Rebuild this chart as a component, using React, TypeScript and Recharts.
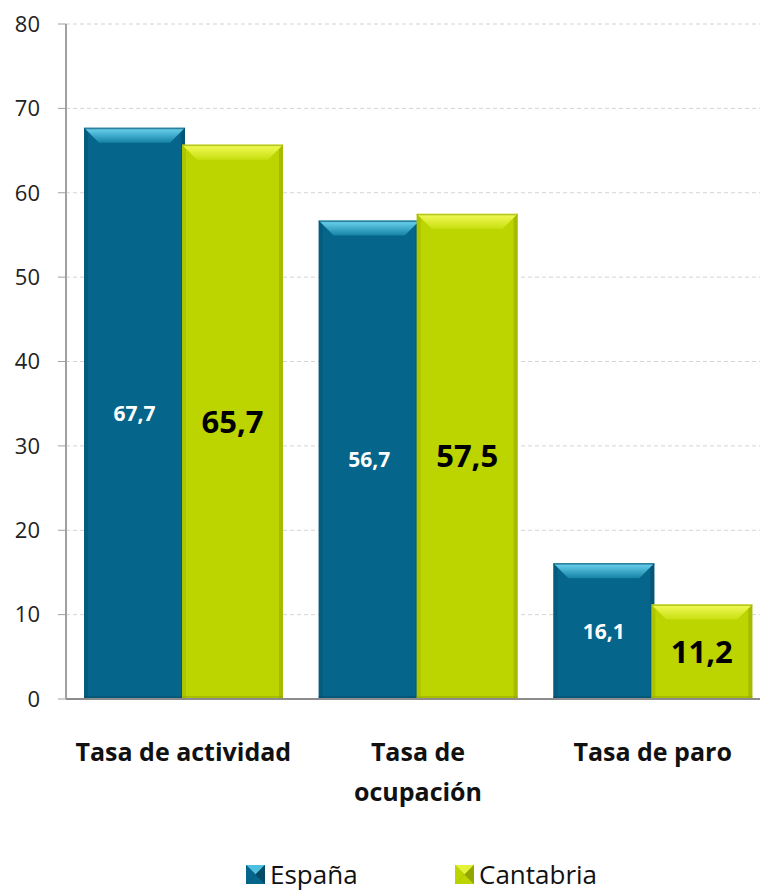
import { BarChart, Bar, XAxis, YAxis, CartesianGrid, Legend, LabelList } from "recharts";

const categories = ["Tasa de actividad", "Tasa de ocupación", "Tasa de paro"];
const categoryLines = [["Tasa de actividad"], ["Tasa de", "ocupación"], ["Tasa de paro"]];
const espana = [67.7, 56.7, 16.1];
const cantabria = [65.7, 57.5, 11.2];
const seriesNames = ["España", "Cantabria"];
const yTicks = [0, 10, 20, 30, 40, 50, 60, 70, 80];

const FONT = "'Open Sans', 'Noto Sans', sans-serif";

const PALETTE: Record<string, { base: string; top: string; dark: string }> = {
  España: { base: "#05658a", top: "#4fbfe0", dark: "#034b66" },
  Cantabria: { base: "#bcd400", top: "#e4f23a", dark: "#93a600" },
};

const data = categories.map((name, i) => ({
  name,
  espana: espana[i],
  cantabria: cantabria[i],
}));

// barra con bisel arriba, estilo excel
const bevelBar = (key: string) => (props: any) => {
  const { x, y, width, height } = props;
  if (!height || height <= 0) return null;
  const c = PALETTE[key];
  const b = Math.min(15, height / 2);
  const s = 4;
  return (
    <g>
      <rect x={x} y={y} width={width} height={height} fill={c.base} />
      <polygon
        points={`${x},${y} ${x + s},${y + s} ${x + s},${y + height} ${x},${y + height}`}
        fill={c.dark}
        opacity={0.35}
      />
      <polygon
        points={`${x + width},${y} ${x + width - s},${y + s} ${x + width - s},${y + height} ${x + width},${y + height}`}
        fill={c.dark}
        opacity={0.55}
      />
      <polygon
        points={`${x},${y} ${x + width},${y} ${x + width - b},${y + b} ${x + b},${y + b}`}
        fill={`url(#top-${key === "España" ? "es" : "ca"})`}
      />
      <rect x={x} y={y + height - 3} width={width} height={3} fill={c.dark} opacity={0.5} />
      <rect x={x} y={y} width={width} height={1.5} fill={c.dark} opacity={0.6} />
    </g>
  );
};

const CategoryTick = (props: any) => {
  const { x, y, payload, index } = props;
  const lines = categoryLines[index] ?? [payload.value];
  return (
    <g>
      {lines.map((l: string, i: number) => (
        <text
          key={i}
          x={x}
          y={y + 44 + i * 40}
          textAnchor="middle"
          dominantBaseline="central"
          fontFamily={FONT}
          fontWeight={700}
          fontSize={25}
          fill="#111"
        >
          {l}
        </text>
      ))}
    </g>
  );
};

const LegendIcon = ({ k }: { k: string }) => {
  const c = PALETTE[k];
  return (
    <svg width={19} height={19} style={{ marginRight: 5 }}>
      <rect x={0} y={0} width={19} height={19} fill={c.dark} />
      <polygon points="0,0 19,0 9.5,9.5" fill={c.top} />
      <polygon points="0,19 19,19 9.5,9.5" fill={c.base} />
      <polygon points="0,0 0,19 9.5,9.5" fill={c.base} />
      <polygon points="19,0 19,19 9.5,9.5" fill={c.dark} />
    </svg>
  );
};

const renderLegend = () => (
  <div
    style={{
      height: 44,
      width: 760,
      position: "relative",
      fontFamily: FONT,
      fontSize: 26,
      color: "#111",
      lineHeight: "28px",
    }}
  >
    {seriesNames.map((n, i) => (
      <div
        key={n}
        style={{ position: "absolute", left: i === 0 ? 246 : 455, top: 12, display: "flex", alignItems: "center" }}
      >
        <LegendIcon k={n} />
        <span>{n}</span>
      </div>
    ))}
  </div>
);

export default function App() {
  return (
    <div style={{ position: "absolute", left: 0, top: 0, width: 760, height: 892, background: "#fff", overflow: "hidden" }}>
      <BarChart
        width={770}
        height={892}
        data={data}
        margin={{ top: 24, right: 0, left: 0, bottom: 0 }}
        barCategoryGap={17}
        barGap={-3}
      >
        <defs>
          <linearGradient id="top-es" x1="0" y1="0" x2="0" y2="1">
            <stop offset="0%" stopColor="#6fd6f2" />
            <stop offset="100%" stopColor="#1583a6" />
          </linearGradient>
          <linearGradient id="top-ca" x1="0" y1="0" x2="0" y2="1">
            <stop offset="0%" stopColor="#f2fb5a" />
            <stop offset="100%" stopColor="#c9df10" />
          </linearGradient>
        </defs>
        <CartesianGrid vertical={false} stroke="#d4d4d4" strokeDasharray="4 3" />
        <XAxis
          dataKey="name"
          height={149}
          axisLine={{ stroke: "#8c8c8c", strokeWidth: 2 }}
          tickLine={false}
          tick={<CategoryTick />}
          interval={0}
        />
        <YAxis
          width={66}
          domain={[0, 80]}
          ticks={yTicks}
          axisLine={{ stroke: "#a0a0a0", strokeWidth: 2 }}
          tickLine={{ stroke: "#a0a0a0" }}
          tickSize={8}
          tickMargin={18}
          tick={{ fontFamily: FONT, fontSize: 22, fill: "#222" }}
        />
        <Legend verticalAlign="bottom" height={44} content={renderLegend} />
        <Bar dataKey="espana" name="España" barSize={101} isAnimationActive={false} shape={bevelBar("España")}>
          <LabelList
            dataKey="espana"
            position="center"
            formatter={(v: any) => String(v).replace(".", ",")}
            fill="#fff"
            fontFamily={FONT}
            fontWeight={700}
            fontSize={21}
          />
        </Bar>
        <Bar dataKey="cantabria" name="Cantabria" barSize={101} isAnimationActive={false} shape={bevelBar("Cantabria")}>
          <LabelList
            dataKey="cantabria"
            position="center"
            formatter={(v: any) => String(v).replace(".", ",")}
            fill="#000"
            fontFamily={FONT}
            fontWeight={700}
            fontSize={31}
          />
        </Bar>
      </BarChart>
    </div>
  );
}
